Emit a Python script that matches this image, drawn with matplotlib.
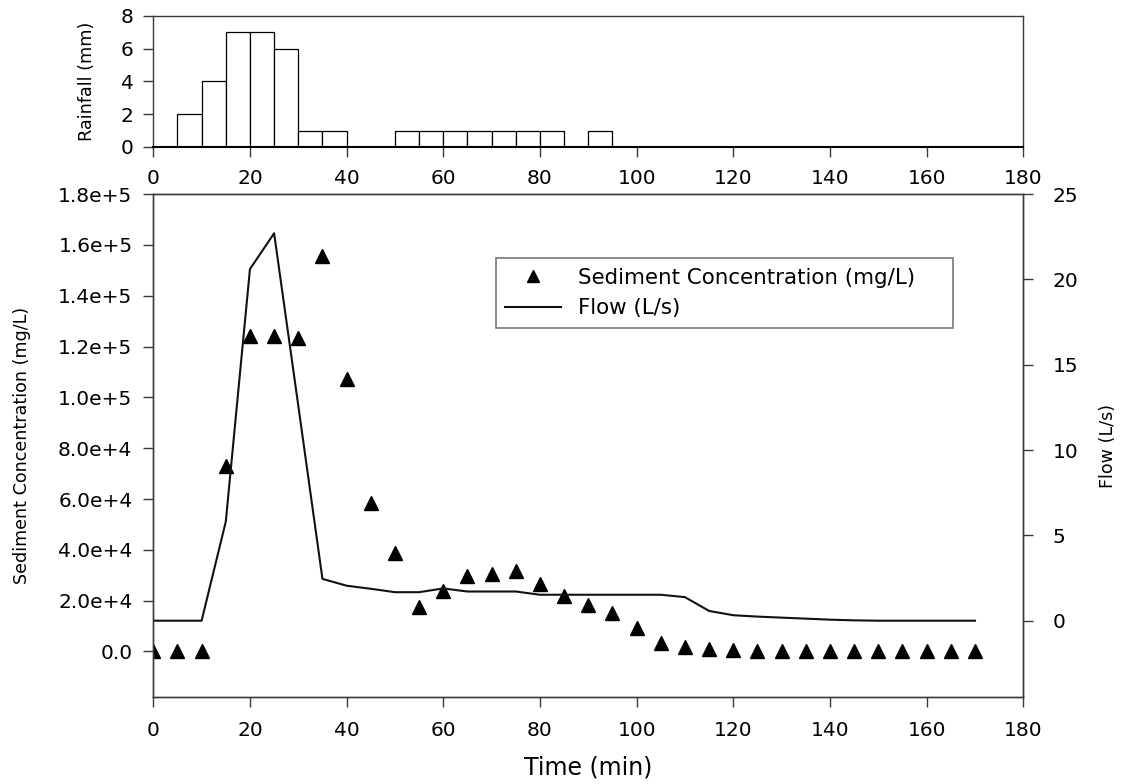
import matplotlib
matplotlib.use("Agg")
import matplotlib.pyplot as plt

plt.rcParams['font.family'] = ['DejaVu Sans']

# rainfall, 5 min bins (left edge)
rain_t = [5, 10, 15, 20, 25, 30, 35, 50, 55, 60, 65, 70, 75, 80, 90]
rain_mm = [2, 4, 7, 7, 6, 1, 1, 1, 1, 1, 1, 1, 1, 1, 1]

# sediment concentration (mg/L)
time = [0, 5, 10, 15, 20, 25, 30, 35, 40, 45, 50, 55, 60, 65, 70, 75, 80, 85,
        90, 95, 100, 105, 110, 115, 120, 125, 130, 135, 140, 145, 150, 155,
        160, 165, 170]
sed = [0, 0, 0, 73000, 124000, 124000, 123500, 155800, 107300, 58500, 38700,
       17600, 23900, 29800, 30500, 31800, 26500, 21700, 18200, 15000, 9100,
       3200, 1900, 900, 600, 300, 300, 300, 300, 300, 300, 300, 300, 300, 300]

# flow (L/s)
flow = [0, 0, 0, 5.8, 20.6, 22.7, 12.6, 2.45, 2.05, 1.87, 1.67, 1.67, 1.89,
        1.71, 1.71, 1.71, 1.52, 1.52, 1.52, 1.52, 1.52, 1.52, 1.38, 0.57,
        0.32, 0.24, 0.18, 0.12, 0.06, 0.02, 0, 0, 0, 0, 0]

sed_ticks = [0, 20000, 40000, 60000, 80000, 100000, 120000, 140000, 160000, 180000]
sed_labels = ["0.0", "2.0e+4", "4.0e+4", "6.0e+4", "8.0e+4", "1.0e+5",
              "1.2e+5", "1.4e+5", "1.6e+5", "1.8e+5"]
x_ticks = [0, 20, 40, 60, 80, 100, 120, 140, 160, 180]

spine_c = '#3a3a3a'
fig = plt.figure(figsize=(11.27, 7.84), dpi=100)

# --- rainfall panel ---
ax0 = fig.add_axes([0.136, 0.8125, 0.772, 0.1675])
ax0.bar(rain_t, rain_mm, width=5, align='edge', color='white',
        edgecolor='black', linewidth=0.9)
ax0.set_xlim(0, 180)
ax0.set_ylim(0, 8)
ax0.set_xticks(x_ticks)
ax0.set_yticks([0, 2, 4, 6, 8])
ax0.tick_params(labelsize=14.5, length=7, width=1, color=spine_c, pad=7)
ax0.tick_params(axis='x', pad=9)
ax0.set_ylabel("Rainfall (mm)", fontsize=12.7)
ax0.yaxis.set_label_coords(-0.076, 0.5)
ax0.yaxis.label.set_va('center')
for s in ax0.spines.values():
    s.set_color(spine_c)
    s.set_linewidth(1)
ax0.spines['bottom'].set_color('black')
ax0.spines['bottom'].set_linewidth(1.5)

# --- sediment / flow panel ---
ax = fig.add_axes([0.136, 0.111, 0.772, 0.6415])
ax2 = ax.twinx()
pts, = ax.plot(time, sed, linestyle='none', marker='^', markersize=10,
               color='black', label="Sediment Concentration (mg/L)")
ln, = ax2.plot(time, flow, color='#111111', linewidth=1.5, label="Flow (L/s)")

ax.set_xlim(0, 180)
ax.set_ylim(-17900, 180000)
ax2.set_ylim(-4.47, 25)
ax.set_xticks(x_ticks)
ax.set_yticks(sed_ticks)
ax.set_yticklabels(sed_labels)
ax2.set_yticks([0, 5, 10, 15, 20, 25])
ax.tick_params(labelsize=14.5, length=7, width=1, color=spine_c, pad=8)
ax.tick_params(axis='x', pad=10)
ax2.tick_params(labelsize=14.5, length=7, width=1, color=spine_c, pad=14)

ax.set_xlabel("Time (min)", fontsize=17)
ax.xaxis.set_label_coords(0.5, -0.141)
ax.xaxis.label.set_va('center')
ax.set_ylabel("Sediment Concentration (mg/L)", fontsize=12.6)
ax.yaxis.set_label_coords(-0.1506, 0.5)
ax.yaxis.label.set_va('center')
ax2.set_ylabel("Flow (L/s)", fontsize=12.6)
ax2.yaxis.set_label_coords(1.0977, 0.5)
ax2.yaxis.label.set_va('center')

for a in (ax, ax2):
    for s in a.spines.values():
        s.set_color(spine_c)
        s.set_linewidth(1)

leg = ax2.legend([pts, ln], [pts.get_label(), ln.get_label()],
                 loc='upper left', bbox_to_anchor=(0.3935, 0.719, 0.5255, 0.1535),
                 mode='expand', fontsize=15.4, frameon=True, fancybox=False,
                 edgecolor='#555555', handlelength=2.6, markerscale=0.8,
                 borderaxespad=0, borderpad=0.45, handletextpad=0.8)
leg.get_frame().set_linewidth(1.2)

fig.savefig("out.png", dpi=100)
